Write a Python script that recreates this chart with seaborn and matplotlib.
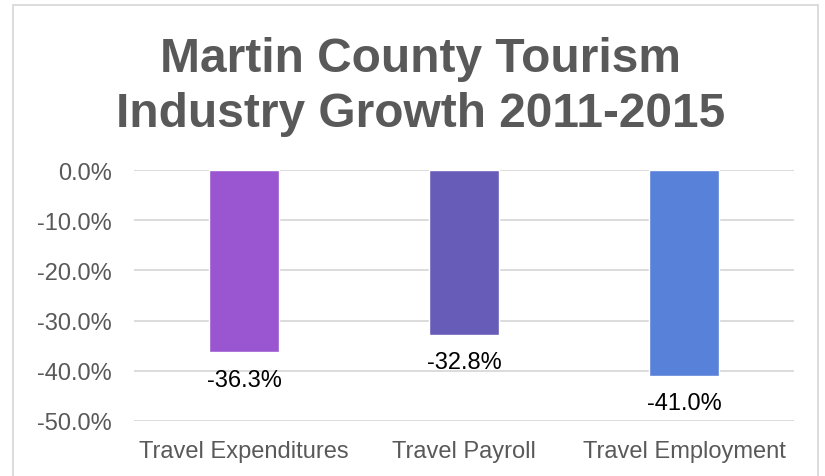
import matplotlib
matplotlib.use("Agg")
import matplotlib.pyplot as plt
from matplotlib.patches import Rectangle
import seaborn as sns
import pandas as pd

categories = ["Travel Expenditures", "Travel Payroll", "Travel Employment"]
growth_pct = [-36.3, -32.8, -41.0]
bar_colors = ["#9a55d0", "#675db8", "#5881d9"]
y_ticks = [0, -10, -20, -30, -40, -50]
title_lines = ["Martin County Tourism", "Industry Growth 2011-2015"]

sns.set_theme(style="white")
plt.rcParams["font.family"] = ["Liberation Sans", "DejaVu Sans"]

df = pd.DataFrame({"category": categories, "growth": growth_pct})

W, H = 825, 477
fig = plt.figure(figsize=(W / 100, H / 100), dpi=100)
ax = fig.add_axes([134 / W, 1 - 422 / H, (794 - 134) / W, (422 - 171) / H])

sns.barplot(data=df, x="category", y="growth", hue="category",
            palette=bar_colors, width=0.32, legend=False, ax=ax,
            saturation=1)

ax.set_ylim(-50, 0)
ax.set_yticks(y_ticks)
ax.set_yticklabels([f"{t:.1f}%" for t in y_ticks])
ax.yaxis.grid(True, color="#d9d9d9", linewidth=1.3)
ax.set_axisbelow(True)
for s in ax.spines.values():
    s.set_visible(False)
ax.set_xlabel("")
ax.set_ylabel("")
ax.tick_params(axis="y", length=0, pad=16, labelsize=17, labelcolor="#595959")
ax.tick_params(axis="x", length=0, pad=14, labelsize=17, labelcolor="#595959")
ax.set_xlim(-0.5, 2.5)

for i, v in enumerate(growth_pct):
    ax.annotate(f"{v:.1f}%", xy=(i, v), xytext=(0, -12), textcoords="offset points",
                ha="center", va="top", fontsize=17, color="black")

for line, base_y in zip(title_lines, [72, 127]):
    fig.text(421 / W, 1 - base_y / H, line,
             ha="center", va="baseline", fontsize=34.5, fontweight="bold",
             color="#595959")

border = Rectangle((13 / W, -0.05), (818 - 13) / W, 1 - 6 / H + 0.05,
                   transform=fig.transFigure, fill=False,
                   edgecolor="#d9d9d9", linewidth=1.3)
fig.patches.append(border)

fig.savefig("out.png", dpi=100)
